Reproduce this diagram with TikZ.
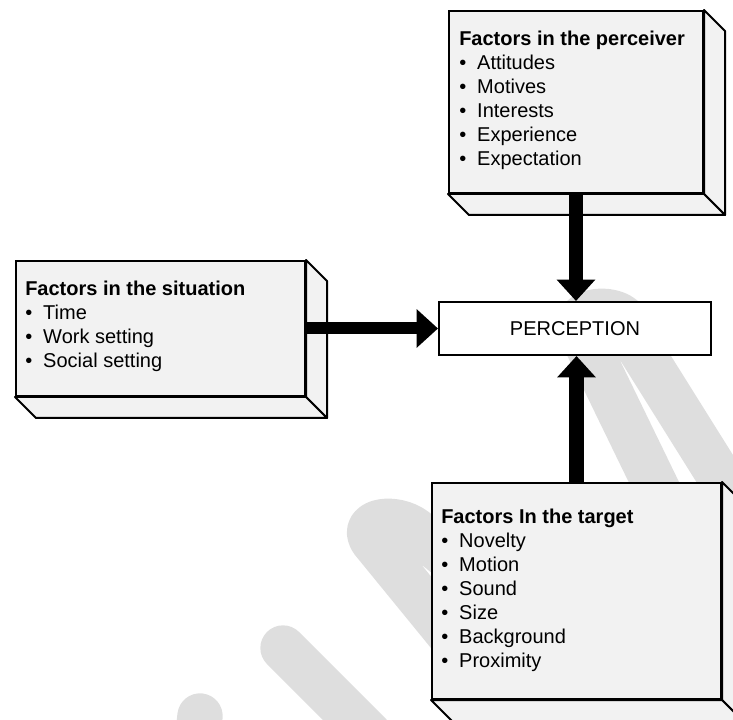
\documentclass[tikz,border=0pt]{standalone}
\usepackage{fontspec}
\setmainfont{Liberation Sans}
\usetikzlibrary{arrows.meta,positioning}

\newcommand{\bul}{\makebox[13.5pt][l]{\textbullet}}

\begin{document}
\begin{tikzpicture}[x=0.75pt,y=-0.75pt,
  front/.style={rectangle, draw=black, line width=1.5pt, fill=black!5, inner sep=0pt, anchor=north west},
  face/.style={draw=black, line width=1.5pt, fill=black!5, line join=round},
  items/.style={align=left, inner sep=0pt, anchor=north west, font=\fontsize{15}{18}\selectfont},
  fat/.style={line width=11pt, -{Triangle[width=28pt,length=16pt]}},
  wm/.style={line width=34pt, black!13, line cap=round, line join=round}]
\useasboundingbox (0,0) rectangle (733,720);
\clip (0,0) rectangle (733,720);

% watermark
\draw[wm] (682,540) -- (580,330) .. controls (572,305) and (630,305) .. (628,330) -- (797,600);
\draw[wm] (470,660) -- (372,540) .. controls (360,520) and (395,515) .. (415,530) -- (470,575);
\draw[wm] (283,648) -- (370,735);
\draw[wm] (200,716) -- (195,760);

% boxes
\node[front, minimum width=190.5pt, minimum height=136.5pt] (perceiver) at (448,10) {};
\node[front, minimum width=216.75pt, minimum height=101.25pt] (situation) at (15,260) {};
\node[front, minimum width=216.75pt, minimum height=162pt] (target) at (431,482) {};

\foreach \b in {perceiver,situation,target}{
  \filldraw[face] (\b.north east) -- ++(21,21) -- ([shift={(21,21)}]\b.south east) -- (\b.south east) -- cycle;
  \filldraw[face] (\b.south west) -- ++(21,21) -- ([shift={(21,21)}]\b.south east) -- (\b.south east) -- cycle;
}

\node[items] (perceiverList) at ([shift={(11,21)}]perceiver.north west)
  {\textbf{Factors in the perceiver}\\ \bul Attitudes\\ \bul Motives\\ \bul Interests\\ \bul Experience\\ \bul Expectation};
\node[items] (situationList) at ([shift={(10,21)}]situation.north west)
  {\textbf{Factors in the situation}\\ \bul Time\\ \bul Work setting\\ \bul Social setting};
\node[items] (targetList) at ([shift={(10,27)}]target.north west)
  {\textbf{Factors In the target}\\ \bul Novelty\\ \bul Motion\\ \bul Sound\\ \bul Size\\ \bul Background\\ \bul Proximity};

\node[rectangle, draw=black, line width=1.5pt, fill=white, inner sep=0pt, anchor=north west,
  minimum width=204pt, minimum height=39.75pt, font=\fontsize{15}{18}\selectfont] (perception) at (438,301) {PERCEPTION};

% arrows
\draw[fat] (perceiver.south) -- (perceiver.south |- perception.north);
\draw[fat] (target.north) -- (target.north |- perception.south);
\draw[fat, line width=9pt] (situation.east) -- (perception.west);
\end{tikzpicture}
\end{document}
